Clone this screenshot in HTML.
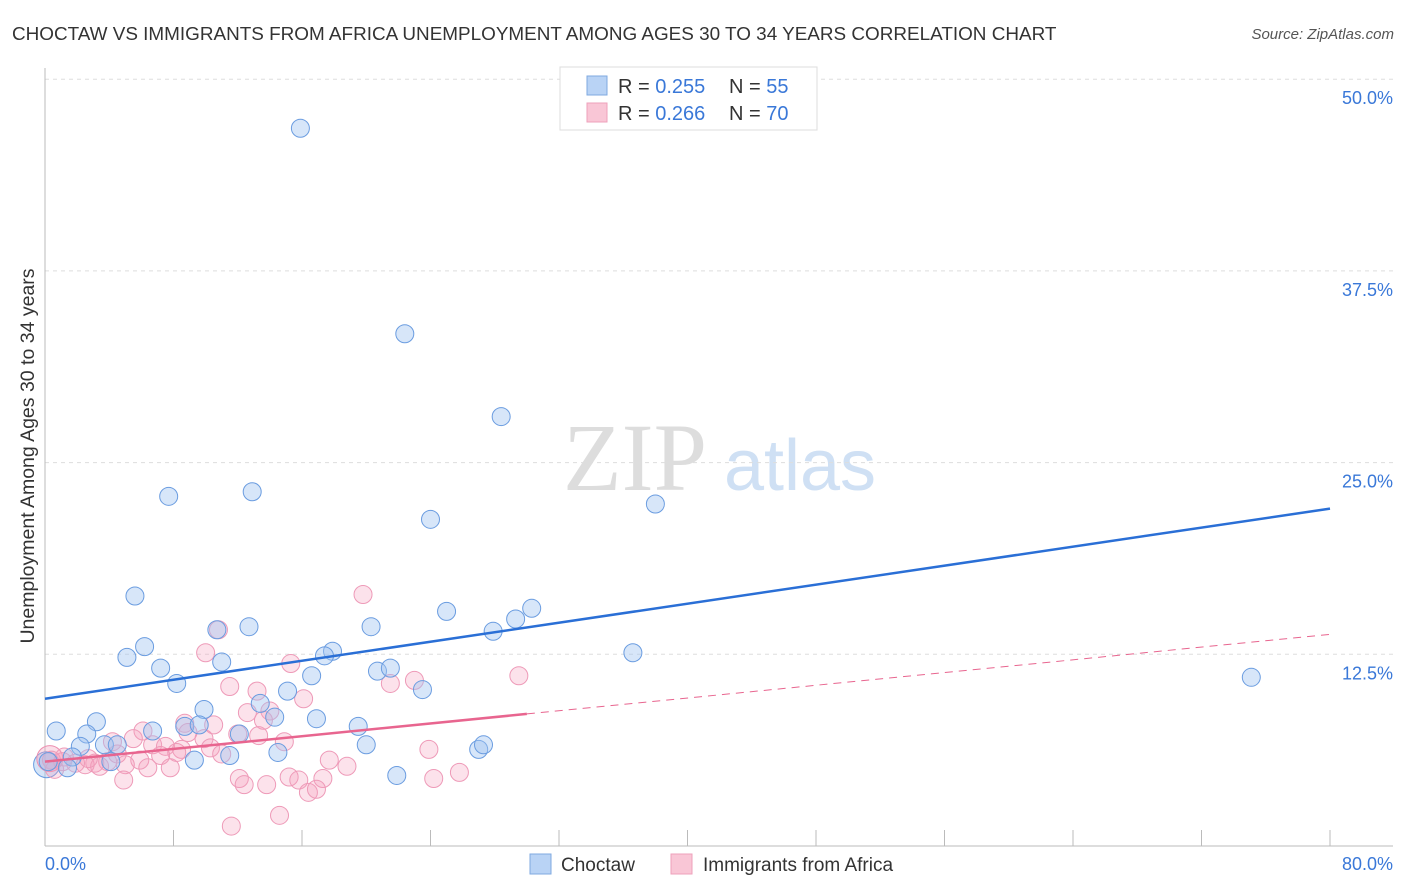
<!DOCTYPE html>
<html><head><meta charset="utf-8"><style>
body{margin:0;background:#fff;font-family:"Liberation Sans",sans-serif;}
#wrap{position:relative;width:1406px;height:892px;overflow:hidden;}
</style></head><body>
<div id="wrap">
<svg id="svg" width="1406" height="892" xmlns="http://www.w3.org/2000/svg">
<text x="12" y="40" font-size="18.9" fill="#333">CHOCTAW VS IMMIGRANTS FROM AFRICA UNEMPLOYMENT AMONG AGES 30 TO 34 YEARS CORRELATION CHART</text>
<text x="1394" y="39" font-size="15" fill="#555" font-style="italic" text-anchor="end">Source: ZipAtlas.com</text>
<text x="34" y="456" font-size="19.5" fill="#333" text-anchor="middle" transform="rotate(-90 34 456)">Unemployment Among Ages 30 to 34 years</text>
<g><text x="635" y="490" font-size="96" fill="#ddd" font-family="Liberation Serif,serif" text-anchor="middle">ZIP</text><text x="800" y="490" font-size="72" fill="#cfe0f4" text-anchor="middle">atlas</text></g>
<g id="grid"></g><g id="marks"></g>
<g>
<rect x="560" y="67" width="257" height="63" fill="#fff" stroke="#ddd"/>
<rect x="587" y="76" width="20" height="19" fill="#b9d3f5" stroke="#7fa9e0"/>
<rect x="587" y="103" width="20" height="19" fill="#f9c6d6" stroke="#eea0bb"/>
<text x="618" y="93" font-size="20" fill="#333">R = <tspan fill="#3a78d8">0.255</tspan></text>
<text x="729" y="93" font-size="20" fill="#333">N = <tspan fill="#3a78d8">55</tspan></text>
<text x="618" y="120" font-size="20" fill="#333">R = <tspan fill="#3a78d8">0.266</tspan></text>
<text x="729" y="120" font-size="20" fill="#333">N = <tspan fill="#3a78d8">70</tspan></text>
</g>
<g>
<rect x="530" y="854" width="21" height="20" fill="#b9d3f5" stroke="#7fa9e0"/>
<text x="561" y="871" font-size="19" fill="#333">Choctaw</text>
<rect x="671" y="854" width="21" height="20" fill="#f9c6d6" stroke="#eea0bb"/>
<text x="703" y="871" font-size="19" fill="#333">Immigrants from Africa</text>
</g>
</svg></div>
<script>
const yTicks=[12.5,25,37.5,50];
const yTickLabels=["12.5%","25.0%","37.5%","50.0%"];
const xTickLabels=["0.0%","80.0%"];
const blueX=[15.9,22.4,28.4,7.7,12.9,24.0,38.0,5.6,25.0,30.3,29.3,27.9,6.2,12.7,20.3,10.7,36.6,75.1,5.1,7.2,11.0,17.9,17.4,8.2,16.6,20.7,21.5,15.1,23.5,9.9,13.4,14.3,16.9,3.2,0.7,2.6,6.7,8.7,9.6,12.1,19.5,20.0,3.7,2.2,4.5,14.5,27.0,27.3,9.3,11.5,21.9,0.2,1.7,4.1,1.4];
const blueY=[46.8,33.4,28.0,22.8,23.1,21.3,22.3,16.3,15.3,15.5,14.8,14.0,13.0,14.3,14.3,14.1,12.6,11.0,12.3,11.6,12.0,12.7,12.4,10.6,11.1,11.4,11.6,10.1,10.2,8.9,9.3,8.4,8.3,8.1,7.5,7.3,7.5,7.8,7.9,7.3,7.8,6.6,6.6,6.5,6.6,6.1,6.3,6.6,5.6,5.9,4.6,5.5,5.8,5.5,5.1];
const pinkX=[19.8,10.8,10.0,15.3,29.5,21.5,11.5,13.2,16.1,23.0,12.6,14.0,13.6,8.7,10.5,6.1,12.0,13.3,8.9,9.9,5.5,4.2,6.7,7.5,8.5,10.3,14.9,11.0,8.2,23.9,17.7,7.2,5.9,5.0,18.8,25.8,6.4,7.8,3.9,3.1,2.5,1.9,1.1,0.4,0.6,1.2,3.4,12.1,15.2,15.8,17.3,12.4,13.8,4.9,24.2,16.4,16.9,14.6,11.6,2.7,4.5];
const pinkY=[16.4,14.1,12.6,11.9,11.1,10.6,10.4,10.1,9.6,10.8,8.7,8.8,8.2,8.0,7.9,7.5,7.3,7.2,7.4,7.0,7.0,6.8,6.6,6.5,6.3,6.4,6.8,6.0,6.1,6.3,5.6,5.9,5.6,5.3,5.2,4.8,5.1,5.1,5.5,5.4,5.3,5.4,5.5,5.6,5.0,5.8,5.2,4.4,4.5,4.3,4.4,4.0,4.0,4.3,4.4,3.5,3.7,2.0,1.3,5.7,6.0];
const bigX=[0.1,0.3];
const bigY=[5.3,5.7];
const blueTrend=[9.6,22.0];
const pinkTrend=[5.5,13.8];
const pinkSolidEnd=30;
const X=v=>45+v/80*1285, Y=v=>846-v/12.5*191.7;
const NS="http://www.w3.org/2000/svg";
function mk(p,t,a){const e=document.createElementNS(NS,t);for(const k in a)e.setAttribute(k,a[k]);p.appendChild(e);return e;}
const g=document.getElementById('grid'),m=document.getElementById('marks');
yTicks.forEach((t,i)=>{
 const l=mk(g,'line',{x1:45,x2:1393,y1:Y(t),y2:Y(t),stroke:'#ddd','stroke-dasharray':'4,4'});
 
 
 const tx=mk(g,'text',{x:1393,y:Y(t)+25,'font-size':18,fill:'#3a78d8','text-anchor':'end'});tx.textContent=yTickLabels[i];
 
 
});
const ax=mk(g,'line',{x1:45,x2:45,y1:68,y2:846,stroke:'#bbb'});


const bx=mk(g,'line',{x1:45,x2:1393,y1:846,y2:846,stroke:'#bbb'});


for(let i=0;i<=10;i++){const t=mk(g,'line',{x1:X(i*8),x2:X(i*8),y1:830,y2:846,stroke:'#bbb'});
 
 }
[[0,'start',45],[80,'end',1393]].forEach((d,i)=>{const t=mk(g,'text',{x:d[2],y:870,'font-size':18,fill:'#3a78d8','text-anchor':d[1]});t.textContent=xTickLabels[i];
 
 });
bigX.forEach((x,i)=>{const c=mk(m,'circle',{cx:X(x),cy:Y(bigY[i]),r:13,fill:i?'rgba(244,160,190,0.35)':'rgba(160,196,240,0.45)',stroke:i?'#ec8fb0':'#6a9ce0','stroke-width':1});
 
 });
pinkX.forEach((x,i)=>{const c=mk(m,'circle',{cx:X(x),cy:Y(pinkY[i]),r:9,fill:'rgba(244,160,190,0.3)',stroke:'#ee9ab8','stroke-width':1});
 
 });
blueX.forEach((x,i)=>{const c=mk(m,'circle',{cx:X(x),cy:Y(blueY[i]),r:9,fill:'rgba(160,196,240,0.42)',stroke:'#6a9ce0','stroke-width':1});
 
 });
const bl=mk(m,'line',{x1:X(0),y1:Y(blueTrend[0]),x2:X(80),y2:Y(blueTrend[1]),stroke:'#2a6fd6','stroke-width':2.5});


const pe=pinkTrend[0]+(pinkTrend[1]-pinkTrend[0])*pinkSolidEnd/80;
const pl=mk(m,'line',{x1:X(0),y1:Y(pinkTrend[0]),x2:X(pinkSolidEnd),y2:Y(pe),stroke:'#e8658f','stroke-width':2.5});


const pd=mk(m,'line',{x1:X(pinkSolidEnd),y1:Y(pe),x2:X(80),y2:Y(pinkTrend[1]),stroke:'#e8658f','stroke-width':1,'stroke-dasharray':'8,6'});


</script>
</body></html>
